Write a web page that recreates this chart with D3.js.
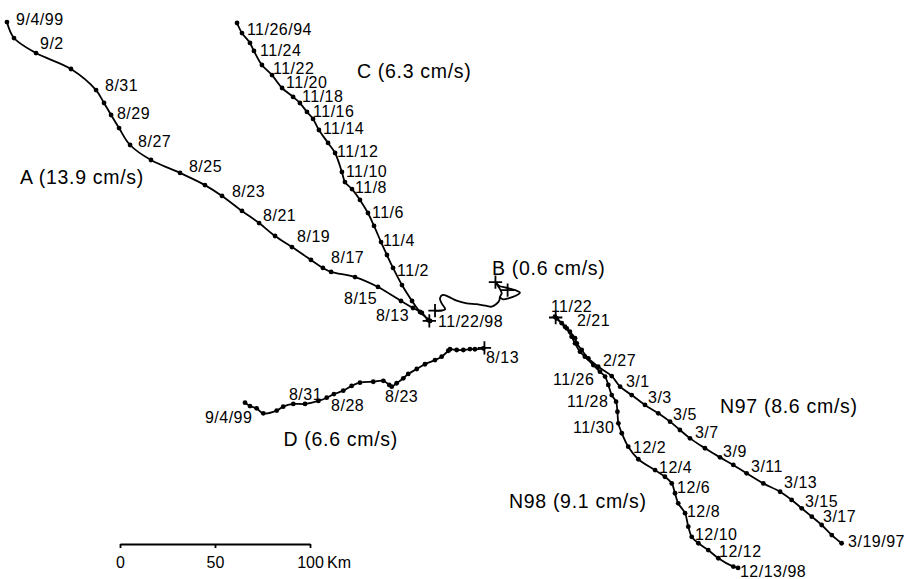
<!DOCTYPE html>
<html>
<head>
<meta charset="utf-8">
<script src="https://cdn.jsdelivr.net/npm/d3@7"></script>
<style>
  html, body { margin: 0; padding: 0; background: #fff; }
  svg { display: block; }
  text { font-family: "Liberation Sans", Arial, Helvetica, sans-serif; fill: #000; }
</style>
</head>
<body>
<svg id="chart" width="906" height="579"></svg>
<script>
// Drifter tracks in km (east, north) relative to scale-bar origin, chronological order
const trackA = [[162.1,117.9],[158.9,121.6],[154.2,124.2],[147.9,127.9],[135.8,135.3],[123.7,140.5],[111.1,143.2],[106.8,145.3],[100.5,149.5],[90.5,156.3],[81.6,162.1],[73.2,168.9],[64.2,175.3],[53.7,183.2],[44.7,188.9],[31.6,195.3],[16.3,202.1],[5.3,210.0],[-0.5,218.9],[-4.7,225.8],[-8.4,232.1],[-12.6,238.9],[-25.8,250.0],[-44.2,258.4],[-55.8,266.3],[-59.5,274.7]];
const trackC = [[163.2,117.4],[157.9,122.1],[153.7,127.9],[148.4,136.3],[143.7,145.3],[140.5,152.1],[137.4,158.9],[133.7,167.4],[130.5,174.2],[126.3,181.1],[122.1,186.8],[118.4,190.5],[116.8,195.8],[113.2,205.8],[109.5,211.1],[104.7,217.9],[101.6,223.7],[98.4,227.4],[94.7,232.1],[91.1,235.3],[85.3,240.0],[80.0,246.8],[74.7,252.1],[70.5,259.5],[68.4,263.7],[64.2,268.9],[61.6,274.2]];
const trackB = [[165.8,122.8],[168.4,122.8],[171.1,123.5],[169.3,126.7],[168.4,129.3],[169.8,131.1],[172.8,130.2],[177.2,128.1],[182.5,126.7],[187.7,126.2],[193.0,125.3],[195.6,124.9],[197.9,126.2],[199.6,128.1],[200.0,130.2],[200.9,131.9],[200.0,134.1],[198.6,136.3],[197.9,137.5],[199.6,135.8],[202.6,135.1],[206.2,134.1],[208.8,133.3],[210.5,132.3],[207.9,130.5],[204.4,129.3],[201.7,128.8],[200.0,129.8]];
const trackD = [[191.2,103.0],[186.8,102.5],[184.2,102.6],[180.7,102.1],[177.2,102.1],[173.7,102.5],[172.8,101.7],[169.3,98.6],[165.8,96.8],[160.5,94.6],[156.2,92.1],[151.7,89.5],[149.1,87.2],[145.6,84.6],[143.0,82.8],[141.7,83.7],[138.6,85.9],[133.3,85.4],[126.3,84.9],[121.9,83.2],[117.5,80.7],[112.6,78.9],[108.8,77.0],[104.4,75.3],[97.4,73.7],[91.2,73.7],[85.9,72.3],[82.5,70.2],[75.4,68.8],[71.9,71.4],[68.4,72.6],[65.8,74.4]];
const trackN98 = [[228.9,119.6],[232.5,116.2],[235.1,113.5],[237.7,109.1],[239.5,105.6],[242.1,101.2],[244.7,98.6],[249.1,94.2],[252.6,90.7],[255.3,88.1],[257.0,83.7],[258.8,78.4],[261.1,74.9],[261.8,69.6],[262.3,63.5],[264.1,58.3],[267.5,51.2],[272.8,44.6],[281.6,38.9],[286.8,35.4],[290.4,31.9],[292.1,26.7],[293.8,21.4],[297.4,16.2],[299.1,9.1],[300.9,3.8],[304.4,0.4],[309.6,-3.2],[314.9,-7.5],[322.8,-11.9],[325.3,-12.6]];
const trackN97 = [[229.8,118.8],[234.2,114.4],[236.8,111.7],[239.5,108.3],[240.4,105.6],[243.0,102.1],[246.5,97.7],[251.7,93.3],[258.8,88.4],[263.2,82.8],[269.3,78.4],[276.3,73.2],[283.3,68.8],[289.5,64.4],[294.7,60.0],[300.0,55.6],[307.9,50.4],[315.8,45.6],[322.8,41.6],[329.8,37.2],[338.6,31.9],[347.4,27.5],[353.5,23.2],[358.8,18.8],[364.1,14.4],[369.3,10.0],[374.6,4.7],[379.8,0.4]];

// Release / fix markers
const releasePoints = [[162.8,117.4],[165.8,122.8],[229.3,119.2],[191.8,103.2],[197.6,137.8],[204.0,133.6]];

// Date labels [text, km east, km north]
const datesA = [["9/4/99",-54.7,273.2],["9/2",-42.1,260.5],["8/31",-7.9,238.4],["8/29",-1.6,223.7],["8/27",9.5,208.9],["8/25",36.3,195.8],["8/23",58.9,182.6],["8/21",75.3,170.0],["8/19",93.2,158.9],["8/17",111.1,147.9],["8/15",117.9,126.3],["8/13",134.7,117.4]];
const datesC = [["11/26/94",66.8,267.9],["11/24",73.7,256.8],["11/22",80.5,247.4],["11/20",87.4,240.0],["11/18",95.8,232.6],["11/16",101.6,224.7],["11/14",106.8,215.8],["11/12",114.2,203.7],["11/10",118.9,193.2],["11/8",123.7,184.7],["11/6",132.6,171.6],["11/4",138.4,156.8],["11/2",145.8,141.1]];
const datesB = [["11/22/98",167.4,114.2]];
const datesD = [["8/13",192.6,95.3],["8/23",139.5,74.7],["8/28",111.1,70.0],["8/31",88.9,75.8],["9/4/99",44.7,63.7]];
const datesN97 = [["2/21",240.5,115.0],["2/27",254.2,93.7],["3/1",266.3,82.6],["3/3",277.9,74.2],["3/5",291.1,65.3],["3/7",302.6,55.8],["3/9",317.4,45.8],["3/11",332.1,37.9],["3/13",349.5,29.5],["3/15",360.5,19.5],["3/17",370.0,11.6],["3/19/97",383.2,-1.6]];
const datesN98 = [["11/22",226.8,122.1],["11/26",227.9,83.7],["11/28",235.3,72.1],["11/30",238.4,58.4],["12/2",270.0,47.9],["12/4",283.7,37.4],["12/6",293.2,26.8],["12/8",298.4,14.2],["12/10",302.6,2.1],["12/12",315.3,-6.8],["12/13/98",326.3,-17.4]];

// Drifter names with mean speeds
const names = [["A (13.9 cm/s)",-52.6,189.5],["C (6.3 cm/s)",124.7,245.3],["B (0.6 cm/s)",195.8,141.6],["D (6.6 cm/s)",86.0,51.6],["N97 (8.6 cm/s)",315.8,68.9],["N98 (9.1 cm/s)",204.7,18.9]];

const scaleTicks = [0, 50, 100];
const scaleUnit = "Km";

const svg = d3.select("#chart");
const x = d3.scaleLinear().domain([0, 100]).range([120, 310]);
const y = d3.scaleLinear().domain([0, 100]).range([544, 354]);

const line = d3.line().x(d => x(d[0])).y(d => y(d[1])).curve(d3.curveCatmullRom.alpha(0.5));

const tracks = [trackA, trackC, trackB, trackD, trackN98, trackN97];
svg.append("g").selectAll("path").data(tracks).join("path")
  .attr("d", line).attr("fill", "none").attr("stroke", "#000")
  .attr("stroke-width", 1.8).attr("stroke-linejoin", "round");

const dotTracks = [trackA, trackC, trackD, trackN98, trackN97];
svg.append("g").selectAll("g").data(dotTracks).join("g")
  .selectAll("circle").data(d => d).join("circle")
  .attr("cx", d => x(d[0])).attr("cy", d => y(d[1])).attr("r", 2.4).attr("fill", "#000");

svg.append("g").selectAll("path").data(releasePoints).join("path")
  .attr("transform", d => `translate(${x(d[0])},${y(d[1])})`)
  .attr("d", d3.symbol(d3.symbolPlus, 60)).attr("fill", "none")
  .attr("stroke", "#000").attr("stroke-width", 1.8);

const allDates = [].concat(datesA, datesC, datesB, datesD, datesN97, datesN98);
svg.append("g").selectAll("text").data(allDates).join("text")
  .attr("x", d => x(d[1])).attr("y", d => y(d[2]))
  .attr("font-size", 16).attr("letter-spacing", "0.5px").text(d => d[0]);

svg.append("g").selectAll("text").data(names).join("text")
  .attr("x", d => x(d[1])).attr("y", d => y(d[2]))
  .attr("font-size", 19.5).attr("letter-spacing", "0.7px").text(d => d[0]);

// Scale bar
const axis = d3.axisBottom(x).tickValues(scaleTicks).tickSize(4).tickSizeOuter(0).tickPadding(9);
const gAxis = svg.append("g").attr("transform", `translate(0,${y(0)})`).call(axis);
gAxis.select(".domain").attr("stroke", "#000").attr("stroke-width", 1.8);
gAxis.selectAll(".tick line").attr("stroke", "#000").attr("stroke-width", 1.8);
gAxis.selectAll(".tick text").attr("font-size", 16).attr("fill", "#000")
  .attr("font-family", "'Liberation Sans', Arial, sans-serif");
gAxis.append("text").attr("x", x(100) + 17).attr("y", 24)
  .attr("font-size", 16).attr("fill", "#000").attr("text-anchor", "start")
  .attr("font-family", "'Liberation Sans', Arial, sans-serif").text(scaleUnit);
</script>
</body>
</html>
